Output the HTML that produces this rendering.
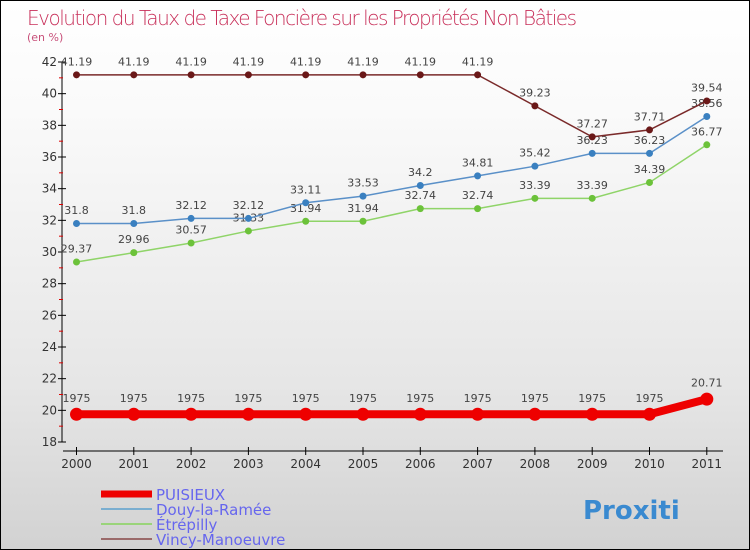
<!DOCTYPE html>
<html><head><meta charset="utf-8"><style>
body{margin:0}
#c{width:748px;height:548px;border:1px solid #000;background:linear-gradient(#fff,#fafafa 20%,#e6e6e6 70%,#d2d2d2);position:relative;font-family:"DejaVu Sans","Liberation Sans",sans-serif;overflow:hidden}
</style></head><body>
<div id="c">
<svg id="s" width="748" height="548">
<text x="26" y="24" font-size="20" fill="#c8305a" font-family="DejaVu Sans, sans-serif" style="font-weight:200" textLength="550">Evolution du Taux de Taxe Foncière sur les Propriétés Non Bâties</text>
<text x="26" y="40" font-size="11" fill="#c8507a">(en %)</text>
<g id="g"></g>
</svg>
</div>
<script>
const years=["2000","2001","2002","2003","2004","2005","2006","2007","2008","2009","2010","2011"];
const puisieux=[19.75,19.75,19.75,19.75,19.75,19.75,19.75,19.75,19.75,19.75,19.75,20.71];
const douy=[31.8,31.8,32.12,32.12,33.11,33.53,34.2,34.81,35.42,36.23,36.23,38.56];
const etrepilly=[29.37,29.96,30.57,31.33,31.94,31.94,32.74,32.74,33.39,33.39,34.39,36.77];
const vincy=[41.19,41.19,41.19,41.19,41.19,41.19,41.19,41.19,39.23,37.27,37.71,39.54];
const yTicks=[18,20,22,24,26,28,30,32,34,36,38,40,42];
const NS="http://www.w3.org/2000/svg";
const g=document.getElementById('g');
const X=i=>75.5+i*57.3;
const Y=v=>441-(v-18)*380/24;
function el(t,a,p){const e=document.createElementNS(NS,t);for(const k in a)e.setAttribute(k,a[k]);(p||g).appendChild(e);return e;}
let ya=el('line',{x1:61,y1:61,x2:61,y2:441,stroke:'#000'});


yTicks.forEach(v=>{
 el('line',{x1:57,x2:65,y1:Y(v),y2:Y(v),stroke:'#000'});
 if(v<42)el('line',{x1:58,x2:62,y1:Y(v+1),y2:Y(v+1),stroke:'#d00'});
 const t=el('text',{x:56,y:Y(v)+4,'text-anchor':'end','font-size':12,fill:'#333'});
 t.textContent=v;
 
 
});
let xa=el('line',{x1:62,y1:450,x2:722,y2:450,stroke:'#000'});


years.forEach((y,i)=>{
 el('line',{x1:X(i),x2:X(i),y1:446,y2:454,stroke:'#000'});
 const t=el('text',{x:X(i),y:467,'text-anchor':'middle','font-size':12,fill:'#333'});
 t.textContent=y;
 
 
});
function series(d,col,dot,w,r,name,fmt){
 const pts=d.map((v,i)=>X(i)+','+Y(v)).join(' ');
 const l=el('polyline',{points:pts,fill:'none',stroke:col,'stroke-width':w});
 
 
 d.forEach((v,i)=>{
  const c=el('circle',{cx:X(i),cy:Y(v),r:r,fill:dot});
  
  
  const t=el('text',{x:X(i),y:Y(v)-(r+6),'text-anchor':'middle','font-size':11,fill:'#444'});
  t.textContent=fmt(v,i);
  
  
 });
}
const f=v=>String(v);
series(etrepilly,'#8fd468','#6cc23a',1.5,3.5,'etrepilly',f);
series(douy,'#5a90c8','#3a80c0',1.5,3.5,'douy',f);
series(vincy,'#7a2a2a','#6a1818',1.5,3.5,'vincy',f);
series(puisieux,'#ee0000','#ee0000',8,6.5,'puisieux',(v,i)=>i===puisieux.length-1?String(v):String(v).replace('.',''));
const leg=[['PUISIEUX','#ee0000',7],['Douy-la-Ramée','#7aaed0',2],['Étrépilly','#9ad47a',2],['Vincy-Manoeuvre','#9a6a6a',2]];
leg.forEach((L,i)=>{
 const y=493+i*15;
 const ln=el('line',{x1:100,x2:151,y1:y,y2:y,stroke:L[1],'stroke-width':L[2]});
 
 
 const t=el('text',{x:155,y:y+6,'font-size':15,fill:'#6666ee'});
 t.textContent=L[0];
 
 
});
const lg=el('text',{x:582,y:518,'font-size':26,'font-weight':'bold',fill:'#3a8ad0'});
lg.textContent='Proxiti';


</script>
</body></html>
